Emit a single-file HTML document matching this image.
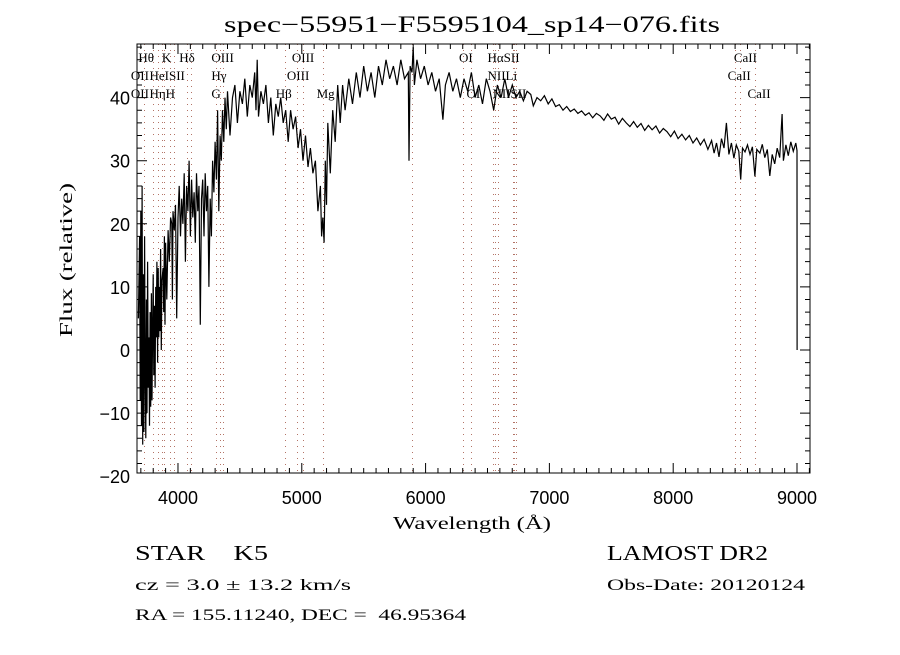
<!DOCTYPE html>
<html><head><meta charset="utf-8"><style>
body{margin:0;background:#fff;width:900px;height:650px;overflow:hidden}
svg text{font-family:"Liberation Serif",serif;fill:#000}
.s{font-family:"Liberation Sans",sans-serif}
</style></head><body>
<svg id="chart" width="900" height="650" xmlns="http://www.w3.org/2000/svg">
<text x="224" y="32" font-size="23" textLength="496" lengthAdjust="spacingAndGlyphs">spec−55951−F5595104_sp14−076.fits</text>
<text x="393" y="529" font-size="18" textLength="158" lengthAdjust="spacingAndGlyphs">Wavelength (Å)</text>
<text transform="translate(72,337) rotate(-90)" font-size="18" textLength="154" lengthAdjust="spacingAndGlyphs">Flux (relative)</text>
<text x="135" y="560" font-size="21" textLength="133" lengthAdjust="spacingAndGlyphs" xml:space="preserve">STAR    K5</text>
<text x="607" y="560" font-size="21" textLength="161" lengthAdjust="spacingAndGlyphs">LAMOST DR2</text>
<text x="135" y="590" font-size="16" textLength="216" lengthAdjust="spacingAndGlyphs">cz = 3.0 ± 13.2 km/s</text>
<text x="607" y="590" font-size="16" textLength="198" lengthAdjust="spacingAndGlyphs">Obs-Date: 20120124</text>
<text x="135" y="620" font-size="16" textLength="331" lengthAdjust="spacingAndGlyphs" xml:space="preserve">RA = 155.11240, DEC =  46.95364</text>
<g id="plot"></g>
</svg>
<script>
const wavelengths=[3680,3690,3695,3700,3705,3710,3715,3720,3725,3730,3735,3740,3745,3750,3755,3760,3765,3770,3775,3780,3785,3790,3795,3800,3805,3810,3815,3820,3825,3830,3835,3840,3845,3850,3855,3860,3865,3870,3880,3885,3890,3895,3900,3910,3920,3930,3940,3950,3955,3960,3970,3980,3990,4000,4010,4020,4030,4040,4050,4060,4070,4080,4090,4100,4110,4120,4130,4140,4150,4160,4170,4180,4190,4200,4210,4220,4230,4240,4250,4260,4270,4280,4290,4300,4310,4320,4330,4340,4350,4360,4370,4380,4390,4400,4420,4440,4460,4480,4500,4520,4540,4560,4580,4600,4620,4630,4640,4650,4670,4690,4710,4730,4750,4770,4790,4810,4830,4850,4870,4890,4910,4930,4950,4970,4990,5010,5030,5050,5070,5090,5110,5130,5150,5160,5170,5180,5190,5200,5210,5230,5250,5270,5290,5310,5330,5350,5380,5410,5440,5470,5500,5530,5560,5590,5620,5650,5680,5710,5740,5770,5800,5830,5860,5866,5875,5890,5900,5910,5930,5960,5990,6020,6050,6080,6110,6140,6160,6190,6220,6250,6280,6310,6340,6370,6400,6430,6460,6490,6520,6550,6580,6610,6640,6670,6700,6730,6760,6790,6820,6850,6870,6900,6930,6960,6990,7020,7050,7080,7110,7140,7170,7200,7230,7260,7290,7320,7350,7380,7410,7440,7470,7500,7530,7560,7590,7620,7650,7680,7710,7740,7770,7800,7830,7860,7890,7920,7950,7980,8010,8040,8070,8100,8130,8160,8190,8220,8250,8280,8310,8330,8350,8370,8390,8410,8430,8450,8470,8490,8510,8530,8545,8560,8580,8600,8620,8640,8660,8675,8700,8720,8740,8760,8780,8800,8820,8840,8860,8880,8890,8910,8930,8950,8970,8990,9000,9001];
const fluxes=[5,18,-8,22,-12,26,-15,12,-13,18,-5,-14,8,-10,14,-6,2,-12,6,-9,9,-8,3,12,-4,7,-6,10,2,14,-2,13,2,10,3,16,0,11,13,6,18,4,17,8,19,14,21,20,8,22,19,23,5,21,26,18,24,20,28,14,26,22,30,18,27,21,25,17,28,22,26,4,24,27,18,28,22,26,10,24,18,30,25,33,27,38,22,34,30,38,33,40,35,41,34,40,42,36,41,39,43,37,42,40,44,38,46,37,41,39,42,36,40,34,39,37,40,36,38,33,38,35,37,32,35,30,34,29,32,28,30,22,26,18,21,17,30,23,36,28,38,33,42,36,42,38,43,39,44,40,45,41,44,40,45,42,46,43,45,42,46,43,44,30,45,44,48,42,46,43,45,42,44,41,43,36.5,42,44,41,43,40,43,41,44,40,42,39,43,41,38,42,40,43,40,42,40,41,39.5,41,40.5,38.7,40,39.5,40.3,39,39.8,38.6,38.9,38,38.6,37.8,38.2,37.5,37.9,37.2,37.6,36.8,37.5,37.1,36.4,37.4,36.6,36.9,35.8,36.7,36,35.4,36.2,35.3,35.9,34.8,35.6,34.9,35.5,34.4,35.1,34.6,33.8,34.7,33.5,34.2,33.3,34,32.8,33.6,32.5,33.4,31.8,33.2,31.2,32.8,30.6,33.5,32,36,31,32.8,30.4,32.5,31.5,27,32,31.4,32.5,31,32.2,27.5,31.8,31.2,32.6,30.5,31.8,27.6,31,29.5,32,30.5,37.4,30,32.5,30.8,33,31.5,32.8,31.6,0];
const xTicks=[4000,5000,6000,7000,8000,9000];
const yTicks=[-20,-10,0,10,20,30,40];
const lineWl=[3727,3798,3835,3869,3889,3934,3969,4072,4102,4305,4341,4363,4861,4959,5007,5175,5893,6300,6364,6548,6563,6583,6708,6717,6731,8498,8542,8662];
const labels=[["Hθ",3680,0],["K",3870,0],["Hδ",4010,0],["OIII",4270,0],["OIII",4920,0],["OI",6270,0],["HαSII",6500,0],["CaII",8490,0],
["OII",3620,1],["HeISII",3770,1],["Hγ",4270,1],["OIII",4880,1],["NIILi",6500,1],["CaII",8440,1],
["OII",3620,2],["Hη",3770,2],["H",3900,2],["G",4270,2],["Hβ",4790,2],["Mg",5120,2],["OI",6330,2],["NIISII",6540,2],["CaII",8600,2]];

const L=137,R=810,T=44,B=473;
const xmin=3669,xmax=9105,ymin=-19.5,ymax=48.5;
const X=v=>L+(v-xmin)/(xmax-xmin)*(R-L);
const Y=v=>B-(v-ymin)/(ymax-ymin)*(B-T);
const g=document.getElementById('plot');
const NS='http://www.w3.org/2000/svg';
function mk(t,a){const e=document.createElementNS(NS,t);for(const k in a)e.setAttribute(k,a[k]);g.appendChild(e);return e;}

const defs=mk('clipPath',{id:'clip'});
const cr=document.createElementNS(NS,'rect');cr.setAttribute('x',L);cr.setAttribute('y',T);cr.setAttribute('width',R-L);cr.setAttribute('height',B-T);defs.appendChild(cr);

lineWl.forEach(w=>{
  const l=mk('line',{x1:Math.round(X(w))+0.5,x2:Math.round(X(w))+0.5,y1:T,y2:B,stroke:'#a05040','stroke-width':1,'stroke-dasharray':'1,5','stroke-opacity':0.8});
  
  
});
labels.forEach(d=>{
  const t=mk('text',{x:X(d[1]),y:62+d[2]*18,'font-size':13});
  t.textContent=d[0];
  
  
});

let p='';
wavelengths.forEach((w,i)=>{p+=(i?'L':'M')+X(w).toFixed(1)+','+Y(fluxes[i]).toFixed(1);});
const path=mk('path',{d:p,fill:'none',stroke:'#000','stroke-width':1.2,'clip-path':'url(#clip)'});



const frame=mk('rect',{x:L,y:T,width:R-L,height:B-T,fill:'none',stroke:'#000','stroke-width':1});



let tk='';
for(let w=3700;w<=9100;w+=100){const maj=w%1000===0;const h=maj?10:5;tk+=`M${X(w)},${B}v${-h}M${X(w)},${T}v${h}`;}
for(let v=-18;v<=48;v+=2){const maj=v%10===0;const h=maj?10:5;tk+=`M${L},${Y(v)}h${h}M${R},${Y(v)}h${-h}`;}
const ticks=mk('path',{d:tk,stroke:'#000','stroke-width':1,fill:'none'});



xTicks.forEach(w=>{
  const t=mk('text',{x:X(w),y:504,'font-size':18,'text-anchor':'middle',class:'s'});
  t.textContent=w;
  
  
});
yTicks.forEach(v=>{
  const t=mk('text',{x:130,y:Y(v)+7,'font-size':18,'text-anchor':'end',class:'s'});
  t.textContent=v<0?'−'+(-v):v;
  
  
});
</script>
</body></html>
